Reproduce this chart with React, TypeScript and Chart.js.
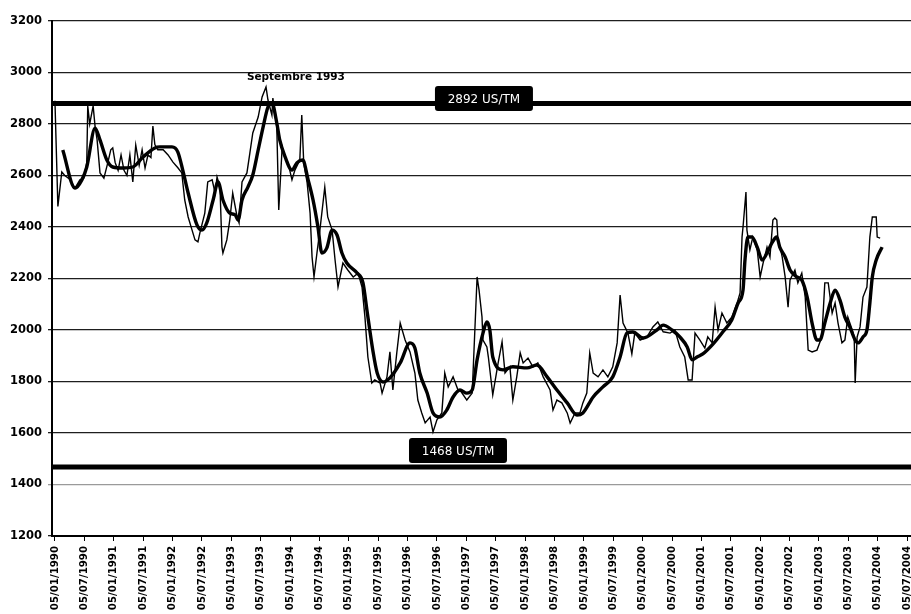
import React, { useEffect, useRef } from "react";
import { Chart, registerables } from "chart.js";

Chart.register(...registerables);

// ---- axis data ----
const tickLabels = [
  "05/01/1990", "05/07/1990", "05/01/1991", "05/07/1991", "05/01/1992", "05/07/1992",
  "05/01/1993", "05/07/1993", "05/01/1994", "05/07/1994", "05/01/1995", "05/07/1995",
  "05/01/1996", "05/07/1996", "05/01/1997", "05/07/1997", "05/01/1998", "05/07/1998",
  "05/01/1999", "05/07/1999", "05/01/2000", "05/07/2000", "05/01/2001", "05/07/2001",
  "05/01/2002", "05/07/2002", "05/01/2003", "05/07/2003", "05/01/2004", "05/07/2004",
];
// months since January 1990 for each tick label
const tickMonths = tickLabels.map((_, i) => i * 6);

const yMin = 1200;
const yMax = 3200;
const yStep = 200;
const xMin = -0.6;
const xMax = 174.8;

// ---- spot price series (US$/t), x = months since Jan 1990 ----
const spotMonths = [
  0, 0.6, 1.4, 2.0, 3.1, 4.1, 5.1, 5.9, 6.5, 6.7, 7.1, 7.8, 8.2, 8.6, 9.2, 10.0, 10.8, 11.4, 11.8,
  12.3, 12.9, 13.5, 14.1, 14.7, 15.3, 15.9, 16.5, 17.2, 17.8, 18.4, 19.0, 19.6, 20.0, 20.4, 21.0,
  22.1, 23.1, 24.1, 25.1, 25.9, 26.5, 27.2, 28.0, 28.6, 29.2, 29.6, 30.6, 31.2, 32.1, 32.7, 33.1,
  33.7, 34.1, 34.3, 35.1, 35.7, 36.3, 37.2, 37.6, 38.2, 39.2, 39.8, 40.4, 41.5, 42.3, 43.1, 43.5,
  44.3, 44.5, 45.3, 45.7, 46.4, 47.0, 47.6, 48.4, 49.0, 50.0, 50.4, 50.8, 51.5, 52.1, 52.5, 52.9,
  53.5, 54.1, 55.1, 55.7, 56.6, 57.2, 57.8, 58.8, 59.8, 60.9, 61.9, 62.7, 63.3, 63.9, 64.7, 65.3,
  66.4, 66.8, 67.8, 68.4, 69.0, 69.8, 70.5, 71.5, 72.5, 73.5, 74.1, 74.9, 75.6, 76.6, 77.2, 78.0,
  79.0, 79.6, 80.3, 81.3, 82.3, 82.7, 84.1, 85.2, 85.4, 86.2, 86.6, 87.2, 87.4, 88.2, 88.5, 89.4,
  90.5, 91.3, 91.9, 92.9, 93.5, 94.3, 95.0, 95.6, 96.6, 97.6, 98.6, 99.7, 101.1, 101.7, 102.5,
  103.5, 104.6, 105.2, 106.2, 107.2, 107.8, 108.6, 109.2, 109.9, 110.9, 111.9, 112.9, 113.9,
  114.8, 115.4, 116.0, 117.0, 117.8, 118.4, 119.5, 120.9, 122.1, 123.1, 124.2, 125.6, 126.6,
  127.6, 128.6, 129.3, 130.1, 130.7, 131.7, 132.7, 133.3, 134.2, 134.8, 135.4, 136.2, 137.2,
  138.2, 139.3, 139.9, 140.3, 140.5, 141.1, 141.3, 141.9, 142.5, 143.4, 144.0, 144.6, 145.4,
  146.0, 146.6, 147.0, 147.4, 147.6, 148.5, 149.1, 149.7, 150.1, 151.1, 151.7, 152.5, 153.2,
  153.8, 154.6, 155.6, 156.6, 157.2, 157.9, 158.7, 159.3, 159.9, 160.7, 161.3, 161.9, 162.8,
  163.2, 163.4, 163.8, 164.4, 165.0, 165.8, 166.4, 166.9, 167.7, 167.9, 168.5,
];
const spotPrices = [
  2890, 2480, 2614, 2600, 2585, 2551, 2583, 2590, 2650, 2870, 2800, 2870, 2790, 2740, 2610, 2590, 2650, 2700, 2707,
  2650, 2620, 2680, 2620, 2600, 2680, 2575, 2718, 2640, 2700, 2629, 2680, 2670, 2792, 2720, 2700,
  2700, 2680, 2652, 2630, 2610, 2505, 2439, 2388, 2350, 2342, 2377, 2454, 2575, 2583, 2532, 2594,
  2555, 2323, 2299, 2350, 2427, 2532, 2439, 2416, 2575, 2610, 2687, 2765, 2827, 2905, 2944, 2893,
  2835, 2901, 2788, 2466, 2711, 2672, 2649, 2583, 2621, 2660, 2835, 2649, 2571, 2454, 2284, 2206,
  2299, 2388, 2555, 2439, 2388, 2272, 2167, 2260, 2233, 2206, 2221, 2167, 2050, 1895, 1794, 1806,
  1794, 1755, 1818, 1915, 1767, 1911, 2027, 1961, 1915, 1833, 1728, 1678, 1639, 1662, 1604, 1651,
  1678, 1833, 1779, 1818, 1767, 1767, 1728, 1755, 1845, 2206, 2155, 2051, 1961, 1934, 1895, 1748,
  1872, 1954, 1833, 1857, 1728, 1818, 1911, 1872, 1891, 1857, 1872, 1818, 1767, 1689, 1728,
  1717, 1678, 1639, 1678, 1678, 1717, 1755, 1911, 1833, 1818, 1845, 1818, 1857,
  1950, 2136, 2027, 1988, 1907, 1988, 1961, 1973, 2012, 2031, 1993, 1988, 2000,
  1934, 1895, 1806, 1806, 1988, 1961, 1930, 1973, 1950, 2089, 2000, 2066, 2027,
  2050, 2105, 2144, 2361, 2400, 2536, 2388, 2311, 2361, 2311, 2206, 2260, 2322,
  2284, 2427, 2435, 2427, 2361, 2284, 2206, 2089, 2194, 2233, 2183, 2221, 2128,
  1922, 1915, 1922, 1973, 2183, 2183, 2066, 2105, 2027, 1950, 1961, 2050, 2000,
  1973, 1794, 1973, 2012, 2128, 2167, 2361, 2439, 2439, 2361, 2357,
];

// ---- moving average series ----
const avgMonths = [
  1.6, 4.1, 5.5, 6.5, 8.2, 9.2, 10.6, 11.8, 13.9, 15.9, 18.0, 20.4, 21.4, 23.9, 25.1, 26.1, 27.2,
  29.0, 30.0, 31.0, 32.3, 33.3, 34.3, 35.7, 36.8, 37.4, 38.2, 39.4, 40.4, 41.5, 42.5, 43.5, 44.3,
  45.3, 45.9, 47.0, 48.4, 49.4, 50.6, 51.7, 52.7, 53.7, 54.5, 55.5, 56.6, 57.6, 58.6, 59.6, 61.7,
  62.9, 63.7, 64.9, 65.8, 67.0, 68.4, 70.5, 72.5, 73.5, 74.5, 76.0, 77.2, 78.6, 80.0, 81.3, 82.7,
  84.1, 85.2, 86.2, 87.4, 88.2, 88.8, 89.4, 91.5, 93.5, 96.4, 98.4, 100.5, 102.5, 104.6, 106.6,
  107.8, 109.9, 111.9, 113.9, 115.4, 116.8, 118.0, 120.1, 122.9, 124.2, 126.0, 127.6, 129.1,
  130.1, 131.1, 132.3, 134.4, 136.4, 138.2, 139.5, 140.5, 140.9, 141.5, 142.3, 143.4, 144.4,
  145.4, 146.4, 147.4, 148.0, 149.1, 150.1, 151.5, 152.5, 153.6, 154.6, 155.6, 156.2, 157.2,
  158.3, 159.3, 160.3, 161.3, 162.3, 163.4, 164.0, 165.0, 165.8, 166.4, 166.9, 167.7, 168.9,
];
const avgPrices = [
  2699, 2551, 2583, 2633, 2784, 2738, 2660, 2633, 2629, 2633, 2672, 2707, 2711, 2711, 2691, 2621, 2532,
  2408, 2388, 2416, 2505, 2575, 2505, 2454, 2447, 2427, 2505, 2555, 2602, 2699, 2788, 2866, 2882,
  2804, 2738, 2672, 2621, 2649, 2660, 2583, 2505, 2400, 2299, 2318, 2388, 2369, 2299, 2260, 2221,
  2183, 2078, 1922, 1833, 1798, 1814, 1872, 1950, 1930, 1833, 1755, 1678, 1662, 1689, 1740, 1767,
  1755, 1767, 1884, 1988, 2031, 2000, 1895, 1845, 1857, 1853, 1864, 1818, 1767, 1717, 1670,
  1678, 1740, 1779, 1818, 1895, 1988, 1992, 1969, 2000, 2019, 2000, 1973, 1934,
  1884, 1895, 1907, 1946, 1993, 2039, 2105, 2155, 2272, 2361, 2361, 2322, 2272,
  2299, 2338, 2361, 2322, 2284, 2233, 2206, 2194, 2128, 2027, 1961, 1961, 2027,
  2105, 2155, 2116, 2050, 2012, 1961, 1950, 1973, 2000, 2105, 2206, 2272, 2322,
];

// ---- reference levels and annotations ----
const refLevels = [2880, 1468];
const refTexts = ["2892 US/TM", "1468 US/TM"];
const refTextMonths = [87.6, 82.3];
const refTextValues = [2899, 1532];
const peakText = "Septembre 1993";
const peakMonth = 49.2;
const peakValue = 2982;

const FONT = "'DejaVu Sans', 'Liberation Sans', Arial, sans-serif";

const annotationPlugin = {
  id: "annotations",
  afterDatasetsDraw(chart: any) {
    const { ctx, scales } = chart;
    const x = scales.x;
    const y = scales.y;
    ctx.save();
    refTexts.forEach((t: string, i: number) => {
      const cx = x.getPixelForValue(refTextMonths[i]);
      const cy = y.getPixelForValue(refTextValues[i]);
      const w = 98;
      const h = 25;
      ctx.fillStyle = "#000";
      ctx.beginPath();
      if ((ctx as any).roundRect) (ctx as any).roundRect(cx - w / 2, cy - h / 2, w, h, 3);
      else ctx.rect(cx - w / 2, cy - h / 2, w, h);
      ctx.fill();
      ctx.fillStyle = "#fff";
      ctx.font = `12px ${FONT}`;
      ctx.textAlign = "center";
      ctx.textBaseline = "middle";
      ctx.fillText(t, cx, cy + 1);
    });
    ctx.fillStyle = "#000";
    ctx.font = `bold 10.5px ${FONT}`;
    ctx.textAlign = "center";
    ctx.textBaseline = "middle";
    ctx.fillText(peakText, x.getPixelForValue(peakMonth), y.getPixelForValue(peakValue));
    ctx.restore();
  },
};

function toPoints(xs: number[], ys: number[]) {
  return xs.map((v, i) => ({ x: v, y: ys[i] }));
}

export default function App() {
  const ref = useRef<HTMLCanvasElement | null>(null);

  useEffect(() => {
    document.body.style.margin = "0";
    document.body.style.background = "#fff";
    const canvas = ref.current;
    if (!canvas) return;
    const chart = new Chart(canvas, {
      type: "line",
      data: {
        datasets: [
          {
            label: "Prix",
            data: toPoints(spotMonths, spotPrices),
            borderColor: "#000",
            borderWidth: 1.4,
            pointRadius: 0,
            tension: 0,
          },
          {
            label: "Moyenne mobile",
            data: toPoints(avgMonths, avgPrices),
            borderColor: "#000",
            borderWidth: 3.4,
            pointRadius: 0,
            cubicInterpolationMode: "monotone",
          },
          ...refLevels.map((lvl) => ({
            label: String(lvl),
            data: [
              { x: xMin, y: lvl },
              { x: xMax, y: lvl },
            ],
            borderColor: "#000",
            borderWidth: 5,
            pointRadius: 0,
          })),
        ],
      },
      options: {
        responsive: false,
        animation: false,
        devicePixelRatio: 1,
        layout: { padding: { top: 21, left: 0, right: 0, bottom: 0 } },
        plugins: { legend: { display: false }, tooltip: { enabled: false } },
        scales: {
          x: {
            type: "linear",
            min: xMin,
            max: xMax,
            afterBuildTicks: (s: any) => {
              s.ticks = tickMonths.map((v) => ({ value: v }));
            },
            afterFit: (s: any) => {
              s.height = 78;
              s.paddingLeft = 0;
              s.paddingRight = 0;
            },
            ticks: {
              autoSkip: false,
              minRotation: 90,
              maxRotation: 90,
              padding: 5,
              color: "#000",
              font: { family: FONT, size: 10.2, weight: "bold" },
              callback: (_v: any, i: number) => tickLabels[i],
            },
            grid: { drawOnChartArea: false, drawTicks: true, tickLength: 5, color: "#000", lineWidth: 1 },
            border: { display: true, color: "#000", width: 2 },
          },
          y: {
            type: "linear",
            min: yMin,
            max: yMax,
            afterFit: (s: any) => {
              s.width = 52;
            },
            ticks: {
              stepSize: yStep,
              padding: 6,
              color: "#000",
              font: { family: FONT, size: 11.5, weight: "bold" },
              callback: (v: any) => String(v),
            },
            grid: {
              color: (c: any) => (c.tick && c.tick.value === 1400 ? "#9a9a9a" : "#1e1e1e"),
              lineWidth: 1.3,
              tickLength: 4,
            },
            border: { display: true, color: "#000", width: 2 },
          },
        },
      },
      plugins: [annotationPlugin],
    } as any);
    return () => chart.destroy();
  }, []);

  return (
    <div style={{ width: 911, height: 614, overflow: "hidden", background: "#fff" }}>
      <canvas ref={ref} width={911} height={614} style={{ display: "block", width: 911, height: 614 }} />
    </div>
  );
}
